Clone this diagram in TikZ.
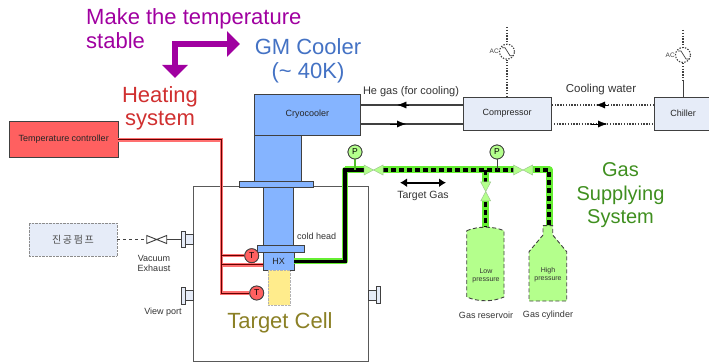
\documentclass[tikz,border=0pt]{standalone}
\usepackage{fontspec}
\setmainfont{Liberation Sans}
\newfontfamily\krfont{Noto Sans CJK KR}
\usepackage{tikz}
\usetikzlibrary{positioning, calc, arrows.meta}
\definecolor{coolblue}{HTML}{85B4FF}
\definecolor{paleblue}{HTML}{E6ECF8}
\definecolor{gasgreen}{HTML}{B4FF8C}
\definecolor{pipegreen}{HTML}{66EE33}
\definecolor{heatred}{HTML}{FF6060}
\definecolor{darkline}{HTML}{404040}
\definecolor{cellyellow}{HTML}{FFEC8C}
\definecolor{stablepurple}{HTML}{A000A0}
\definecolor{coolerblue}{HTML}{4472C4}
\definecolor{heatingred}{HTML}{D03030}
\definecolor{cellolive}{HTML}{8B8025}
\definecolor{gaslabel}{HTML}{3F8F1F}
\tikzset{box/.style={draw=darkline, line width=0.9pt, outer sep=0pt, inner sep=0pt, font=\fontsize{9}{10}\selectfont, text=black!85}}
\tikzset{small/.style={font=\fontsize{9}{11}\selectfont, text=black!80, align=center}}
\tikzset{big/.style={font=\fontsize{22}{23.5}\selectfont, align=center, inner sep=0pt}}
\tikzset{heatline/.style={draw=heatred!90!white, line width=3.2pt}}
\tikzset{heatcore/.style={draw=black!60!red, line width=1pt}}
\tikzset{gauge/.style={circle, draw=darkline, line width=0.8pt, minimum size=14pt, inner sep=0pt, font=\fontsize{8.5}{9}\selectfont}}
\tikzset{acline/.style={draw=darkline, line width=1.1pt, dash pattern=on 1.4pt off 1.4pt}}
\tikzset{vessel/.style={draw=darkline, fill=gasgreen, line width=0.9pt, dash pattern=on 4pt off 2.5pt}}
\tikzset{gasvalve/.pic={\fill[white] (-9.5,-5) rectangle (9.5,5);
  \draw[draw=pipegreen!60!black!50, fill=gasgreen, line width=0.5pt] (-9.5,-5) -- (9.5,5) -- (9.5,-5) -- (-9.5,5) -- cycle;}}

\begin{document}
\begin{tikzpicture}[x=1pt, y=-1pt]
      \clip (0,0) rectangle (709,363);

      % CHAMBER AND COOLER

      \node[box, draw=black!65, fill=white, minimum width=174.5, minimum height=175, anchor=north west] (chamber) at (193.5,186.7) {};
      \node[box, fill=coolblue, minimum width=105.3, minimum height=41, anchor=north west] (cryo) at (254.7,94) {Cryocooler};
      \node[box, fill=coolblue, minimum width=47, minimum height=46, anchor=north west] (column) at (254.7,135) {};
      \node[box, fill=coolblue, minimum width=74, minimum height=6, anchor=north west] (flange) at (239,181) {};
      \node[box, fill=coolblue, minimum width=30.3, minimum height=58, anchor=north west] (stem) at (263,187) {};
      \node[box, fill=coolblue, minimum width=47, minimum height=7.7, anchor=north west] (plate) at (257,245) {};
      \node[box, fill=coolblue, minimum width=31, minimum height=17.6, anchor=north west] (HX) at (263,252.7) {HX};
      \node[draw=black!30, densely dotted, fill=cellyellow, minimum width=22.3, minimum height=34.7, inner sep=0pt, anchor=north west] (cell) at (267.7,270.3) {};

      % PORTS

      \node[box, fill=paleblue, minimum width=8, minimum height=9.5, anchor=east] (vacneck) at (chamber.west |- 0,239.5) {};
      \node[box, fill=paleblue, minimum width=4.3, minimum height=16.6, anchor=east] (vacport) at (vacneck.west) {};
      \node[box, fill=paleblue, minimum width=8, minimum height=10, anchor=east] (viewneck) at (chamber.west |- 0,295.5) {};
      \node[box, fill=paleblue, minimum width=4.3, minimum height=17, anchor=east] (viewport) at (viewneck.west) {};
      \node[box, fill=paleblue, minimum width=8, minimum height=10, anchor=west] (rightneck) at (chamber.east |- 0,295) {};
      \node[box, fill=paleblue, minimum width=4.3, minimum height=17, anchor=west] (rightport) at (rightneck.east) {};

      % PUMP

      \node[draw=black!45, densely dotted, fill=paleblue, minimum width=88, minimum height=33, inner sep=0pt, font=\krfont\fontsize{10}{11}\selectfont, text=black!70] (pump) at (73,239.5) {진\,공\,펌\,프};
      \draw[darkline, line width=0.9pt, fill=white] (146.7,235.5) -- (166.7,243.5) -- (166.7,235.5) -- (146.7,243.5) -- cycle;
      \coordinate (valveL) at (146.7,239.5);
      \coordinate (valveR) at (166.7,239.5);
      \draw[darkline, line width=0.9pt, dashed] (pump.east) -- (valveL);
      \draw[darkline, line width=0.9pt] (valveR) -- (vacport.west);

      % HEATING LINES

      \node[box, fill=heatred, minimum width=108.5, minimum height=36.5, anchor=north west] (controller) at (9.5,121) {Temperature controller};
      \node[gauge, fill=heatred] (T1) at (251.7,255.7) {T};
      \node[gauge, fill=heatred] (T2) at (256.7,293) {T};
      \coordinate (bend) at (221.7,140);
      \coordinate (HXin) at ($(HX.west)+(0,3.5)$);
      \foreach \lay in {heatline, heatcore} {
        \draw[\lay] (controller.east |- bend) -- (bend) -- (bend |- T2) -- (T2);
        \draw[\lay] (bend |- T1) -- (T1);
        \draw[\lay] (bend |- HXin) -- (HXin);
      }
      \node[gauge, fill=heatred] at (T1) {T};
      \node[gauge, fill=heatred] at (T2) {T};

      % GAS PIPES

      \coordinate (corner) at (345,170);
      \coordinate (tee) at (485.7,170);
      \coordinate (far) at (549,170);
      \coordinate (resTop) at (485.7,228);
      \coordinate (cylTop) at (549,226);
      \draw[pipegreen, line width=7pt, line join=round] (corner) -- (far) -- (cylTop);
      \draw[pipegreen, line width=7pt] (tee) -- (resTop);
      \draw[pipegreen, line width=6pt, line join=round] (HX.east) -| (corner) -- (tee);
      \draw[black, line width=3.5pt, line join=miter] (HX.east) -| (corner) -- (364,170);
      \draw[black, line width=3.2pt, dash pattern=on 5pt off 3pt] (375,170) -- (far) -- (cylTop);
      \draw[black, line width=3.2pt, dash pattern=on 5pt off 3pt] (tee) -- (resTop);
      \pic at (373.5,170) {gasvalve};
      \pic at (523,170) {gasvalve};
      \pic[rotate=90] at (485.7,191.5) {gasvalve};
      \node[gauge, fill=gasgreen] (P1) at (355,152) {P};
      \node[gauge, fill=gasgreen] (P2) at (497,152) {P};
      \draw[pipegreen!80!black, line width=2.5pt] (P1) -- (P1 |- corner);
      \draw[darkline, line width=0.9pt] (P2) -- (P2 |- corner);
      \node[gauge, fill=gasgreen] at (P1) {P};
      \node[gauge, fill=gasgreen] at (P2) {P};
      \coordinate (gasL) at (400,182.7);
      \coordinate (gasR) at (446,182.7);
      \draw[black, line width=2.2pt, {Latex[length=7pt,width=9pt]}-{Latex[length=7pt,width=9pt]}] (gasL) -- (gasR);

      % VESSELS

      \draw[vessel] (466.7,230.7) .. controls (478,226) and (493,226) .. (504,230.7) -- (504,297) .. controls (493,302) and (478,302) .. (466.7,297) -- cycle;
      \draw[vessel] (543,225.7) -- (552.7,225.7) -- (552.7,235) -- (566.7,251.7) -- (566.7,301) -- (529,301) -- (529,251.7) -- (543,235) -- cycle;

      % COMPRESSOR AND CHILLER

      \node[box, fill=paleblue, minimum width=87.7, minimum height=33, anchor=north west] (comp) at (463.3,97) {Compressor};
      \node[box, fill=paleblue, minimum width=58, minimum height=33, anchor=north west] (chiller) at (654,97) {Chiller};
      \coordinate (heTop) at (cryo.east |- 0,105);
      \coordinate (heBot) at (cryo.east |- 0,124);
      \draw[darkline, line width=1.2pt] (comp.west |- heTop) -- (heTop);
      \draw[darkline, line width=1.2pt] (heBot) -- (comp.west |- heBot);
      \draw[-{Latex[length=9pt,width=7pt]}, black] (comp.west |- heTop) ++(-54,0) -- ++(-12,0);
      \draw[-{Latex[length=9pt,width=7pt]}, black] (heBot) ++(30,0) -- ++(16,0);
      \draw[darkline, acline] (chiller.west |- heTop) -- (comp.east |- heTop);
      \draw[darkline, acline] (comp.east |- heBot) -- (chiller.west |- heBot);
      \draw[-{Latex[length=9pt,width=7pt]}, black] (chiller.west |- heTop) ++(-46,0) -- ++(-12,0);
      \draw[-{Latex[length=9pt,width=7pt]}, black] (comp.east |- heBot) ++(40,0) -- ++(16,0);

      % AC SUPPLY

      \node[circle, acline, fill=white, minimum size=15pt, inner sep=0pt] (ac1) at (507,51.7) {};
      \node[circle, acline, fill=white, minimum size=15pt, inner sep=0pt] (ac2) at (683,55) {};
      \draw[acline] (comp.north -| ac1) -- (ac1);
      \coordinate (acTop1) at (507,27);
      \draw[acline] (acTop1) -- (ac1);
      \coordinate (acTop2) at (683,30);
      \draw[acline] (acTop2) -- (ac2);
      \coordinate (acMid) at (683,80);
      \draw[acline] (ac2) -- (acMid);
      \draw[darkline, line width=1pt] (acMid) -- (chiller.north -| acMid);
      \draw[darkline, line width=0.7pt] ($(ac1)+(-5,-4)$) -- ++(3,0) -- ++(5,8) -- ++(3,0);
      \draw[darkline, line width=0.7pt] ($(ac2)+(-5,-4)$) -- ++(3,0) -- ++(5,8) -- ++(3,0);
      \node[anchor=east, inner sep=0pt, font=\fontsize{6.5}{7}\selectfont, text=black!75] (acLabelA) at (ac1.west) {AC};
      \node[anchor=east, inner sep=0pt, font=\fontsize{6.5}{7}\selectfont, text=black!75] (acLabelB) at (ac2.west) {AC};

      % LABELS

      \node[big, text=stablepurple, anchor=west, align=left] (stableLabel) at (86,28.5) {Make the temperature\\stable};
      \node[big, text=coolerblue, font=\fontsize{22}{24}\selectfont] (coolerLabel) at (308,60.5) {GM Cooler\\(\textasciitilde{} 40K)};
      \node[big, text=heatingred] (heatLabel) at (160,108.5) {Heating\\system};
      \node[big, text=cellolive] (cellLabel) at (280,323) {Target Cell};
      \node[big, text=gaslabel, font=\fontsize{20}{23.5}\selectfont] (gasLabel) at (620.5,195.5) {Gas\\Supplying\\System};
      \node[small, font=\fontsize{11}{12}\selectfont] (heLabel) at (411,92) {He gas (for cooling)};
      \node[small, font=\fontsize{11.5}{12}\selectfont] (waterLabel) at (601,90) {Cooling water};
      \node[small, font=\fontsize{10.5}{12}\selectfont] (gasArrowLabel) at (423,196) {Target Gas};
      \node[small] (headLabel) at (316.7,236) {cold head};
      \node[small, font=\fontsize{9}{10.5}\selectfont] (vacLabel) at (154,263.5) {Vacuum\\Exhaust};
      \node[small] (viewLabel) at (163,312) {View port};
      \node[small, font=\fontsize{7}{8.5}\selectfont] (lowLabel) at (486,276) {Low\\pressure};
      \node[small, font=\fontsize{7}{8.5}\selectfont] (highLabel) at (548,274.5) {High\\pressure};
      \node[small] (resLabel) at (486,315) {Gas reservoir};
      \node[small] (cylLabel) at (548,315) {Gas cylinder};

      % STABILISING ARROW

      \coordinate (arrowBend) at (175,44);
      \coordinate (arrowRight) at (240,44);
      \coordinate (arrowDown) at (175,78);
      \draw[stablepurple, line width=6pt, line join=miter, {Triangle[length=13pt,width=25pt]}-{Triangle[length=13pt,width=25pt]}] (arrowDown) -- (arrowBend) -- (arrowRight);
\end{tikzpicture}
\end{document}
